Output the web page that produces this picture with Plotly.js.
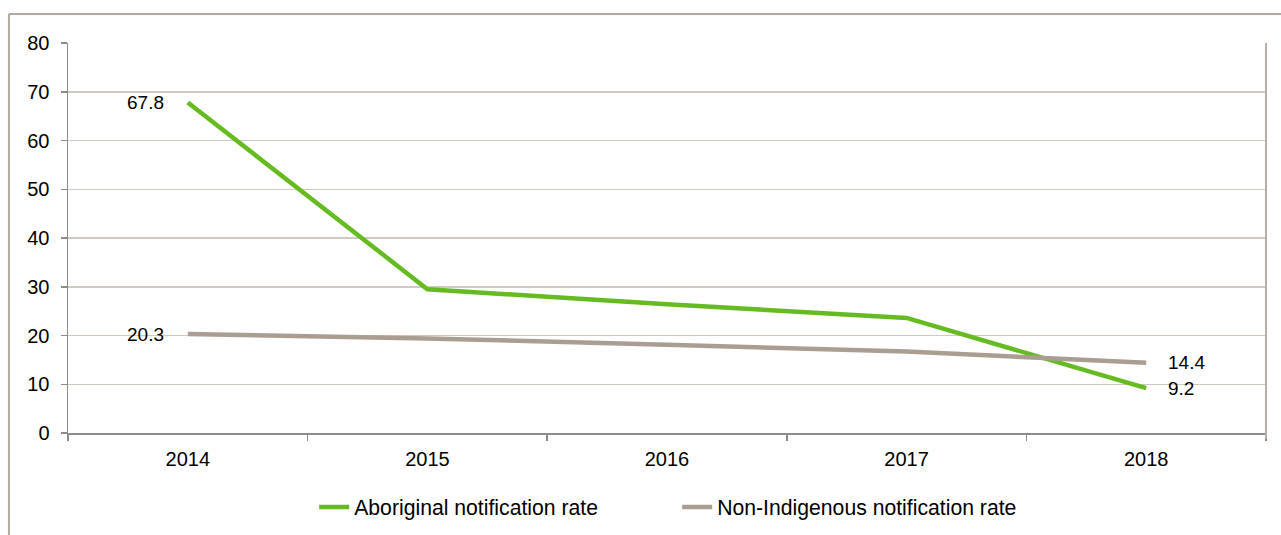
<!DOCTYPE html>
<html>
<head>
<meta charset="utf-8">
<script src="https://cdn.plot.ly/plotly-3.0.1.min.js"></script>
<style>
  html, body { margin: 0; padding: 0; background: #fff; }
  #chart { width: 1281px; height: 535px; }
</style>
</head>
<body>
<div id="chart"></div>
<script>
const years = ['2014', '2015', '2016', '2017', '2018'];
const aboriginalRate = [67.8, 29.5, 26.4, 23.6, 9.2];
const nonIndigenousRate = [20.3, 19.4, 18.1, 16.7, 14.4];
const seriesNames = ['Aboriginal notification rate', 'Non-Indigenous notification rate'];
const yTicks = [0, 10, 20, 30, 40, 50, 60, 70, 80];

const green = '#66bb22';
const grey = '#aa9d92';
const font = '"Liberation Sans", Arial, sans-serif';

const traces = [
  { x: years, y: aboriginalRate, name: seriesNames[0], type: 'scatter', mode: 'lines',
    line: { color: green, width: 4.5 }, hoverinfo: 'x+y' },
  { x: years, y: nonIndigenousRate, name: seriesNames[1], type: 'scatter', mode: 'lines',
    line: { color: grey, width: 4.5 }, hoverinfo: 'x+y' }
];

const last = years.length - 1;
const annotations = [];
[aboriginalRate, nonIndigenousRate].forEach(arr => {
  annotations.push({ x: 0, y: arr[0], xref: 'x', yref: 'y', text: arr[0].toFixed(1),
    showarrow: false, xanchor: 'right', yanchor: 'middle', xshift: -22, font: { family: font, size: 19, color: '#000' } });
  annotations.push({ x: last, y: arr[last], xref: 'x', yref: 'y', text: arr[last].toFixed(1),
    showarrow: false, xanchor: 'left', yanchor: 'middle', xshift: 20, font: { family: font, size: 19, color: '#000' } });
});

const frame = '#b3a99f';
const layout = {
  width: 1281, height: 535,
  margin: { l: 68, r: 15, t: 43, b: 102, pad: 0, autoexpand: false },
  paper_bgcolor: '#fff', plot_bgcolor: '#fff',
  font: { family: font, size: 20, color: '#000' },
  showlegend: true,
  legend: { orientation: 'h', x: 0.5085, xanchor: 'center', yref: 'container', y: 0.052, yanchor: 'middle',
    font: { family: font, size: 21.2, color: '#000' }, entrywidth: 318, itemwidth: 30 },
  xaxis: { type: 'category', range: [-0.5, 4.5], showgrid: false, showline: true,
    linecolor: '#8c8c8c', linewidth: 1.5, ticks: 'outside', tickson: 'boundaries', ticklen: 6,
    tickcolor: '#8c8c8c', tickwidth: 1.5, ticklabelstandoff: 7, zeroline: false, fixedrange: true },
  yaxis: { range: [0, 80], tickvals: yTicks, showgrid: true, gridcolor: '#d0c9c2', gridwidth: 1.5,
    showline: true, linecolor: '#8c8c8c', linewidth: 1.5, ticks: 'outside', ticklen: 6,
    tickcolor: '#8c8c8c', tickwidth: 1.5, ticklabelstandoff: 7, zeroline: false, fixedrange: true },
  annotations: annotations,
  shapes: [
    { type: 'line', xref: 'paper', yref: 'paper', x0: 1, x1: 1, y0: -0.015, y1: 1,
      line: { color: '#b8b0a8', width: 2 } },
    { type: 'line', xref: 'paper', yref: 'paper', x0: -0.0493, x1: 1.02, y0: 1.0745, y1: 1.0745,
      line: { color: frame, width: 2 } },
    { type: 'line', xref: 'paper', yref: 'paper', x0: -0.0493, x1: -0.0493, y0: 1.0745, y1: -0.27,
      line: { color: frame, width: 2 } }
  ]
};

Plotly.newPlot('chart', traces, layout, { displayModeBar: false, staticPlot: true });
</script>
</body>
</html>
